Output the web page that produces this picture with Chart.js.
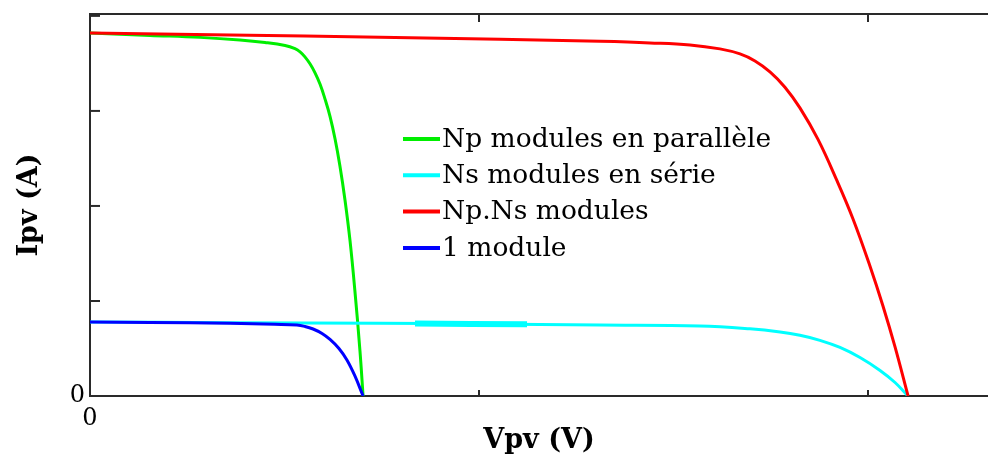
<!DOCTYPE html>
<html><head><meta charset="utf-8">
<script src="https://cdn.jsdelivr.net/npm/chart.js@4.4.1/dist/chart.umd.min.js"></script>
<style>html,body{margin:0;padding:0;background:#fff;overflow:hidden}canvas{display:block}</style>
</head><body>
<canvas id="c" width="988" height="457"></canvas>
<script>
// ---- data ----
const seriesLabels = ['Np modules en parallèle', 'Ns modules en série', 'Np.Ns modules', '1 module'];
const seriesColors = ['#00ee00', '#00ffff', '#ff0000', '#0000ff'];
const xTickValues = [0, 20, 40];
const yTickValues = [0, 1, 2, 3, 4];
const xAxisTitle = 'Vpv (V)';
const yAxisTitle = 'Ipv (A)';

const vParallel = [0, 3.08, 5.66, 7.71, 9.00, 10.03, 10.54, 10.80, 11.05, 11.31, 11.57, 11.83, 12.08, 12.34, 12.60, 12.85, 13.11, 13.37, 13.62, 13.88, 14.04];
const iParallel = [3.821, 3.795, 3.774, 3.747, 3.721, 3.689, 3.655, 3.622, 3.569, 3.496, 3.401, 3.280, 3.127, 2.943, 2.705, 2.421, 2.063, 1.632, 1.105, 0.474, 0];

const vSeries = [0, 7.20, 14.91, 20.05, 26.22, 31.36, 33.93, 35.48, 36.50, 37.53, 38.56, 39.59, 40.62, 41.39, 42.06];
const iSeries = [0.779, 0.771, 0.765, 0.758, 0.747, 0.737, 0.707, 0.674, 0.639, 0.586, 0.511, 0.405, 0.269, 0.142, 0];

const vBoth = [0, 7.20, 14.91, 21.08, 26.22, 28.79, 30.85, 32.39, 33.42, 34.19, 34.96, 35.73, 36.50, 37.43, 38.41, 39.23, 40.10, 40.77, 41.39, 42.06];
const iBoth = [3.821, 3.800, 3.776, 3.755, 3.732, 3.716, 3.695, 3.653, 3.600, 3.526, 3.411, 3.250, 3.032, 2.700, 2.263, 1.863, 1.368, 0.947, 0.516, 0];

const vSingle = [0, 3.08, 7.20, 9.50, 10.64, 11.05, 11.47, 11.93, 12.34, 12.80, 13.21, 13.62, 14.04];
const iSingle = [0.779, 0.774, 0.765, 0.755, 0.747, 0.732, 0.705, 0.658, 0.595, 0.500, 0.379, 0.211, 0];

// thicker stretch visible on the série curve
const vSeriesThick = [16.71, 22.47];
const iSeriesThick = [0.762, 0.755];

const pts = (vs, is) => vs.map((v, k) => ({x: v, y: is[k]}));

const framePlugin = {
  id: 'frame',
  afterDraw(chart) {
    const {ctx, chartArea: a, scales: {x, y}} = chart;
    ctx.save();
    ctx.strokeStyle = '#2a2a2a';
    ctx.lineWidth = 2;
    const seg = (x1, y1, x2, y2) => { ctx.beginPath(); ctx.moveTo(x1, y1); ctx.lineTo(x2, y2); ctx.stroke(); };
    seg(a.left, a.top, a.right, a.top);
    x.ticks.forEach(t => {
      if (t.value === 0) return;
      const px = x.getPixelForValue(t.value);
      seg(px, a.bottom, px, a.bottom - 6);
      seg(px, a.top, px, a.top + 8);
    });
    y.ticks.forEach(t => {
      if (t.value === 0) return;
      const py = y.getPixelForValue(t.value);
      seg(a.left, py, a.left + 10, py);
    });
    // legend
    ctx.font = '26.5px "DejaVu Serif"';
    ctx.textBaseline = 'middle';
    ctx.textAlign = 'left';
    ctx.fillStyle = '#000';
    ctx.lineWidth = 4;
    seriesLabels.forEach((lab, k) => {
      const ly = a.top + 125 + k * 36.3;
      ctx.strokeStyle = seriesColors[k];
      seg(a.left + 313, ly, a.left + 350, ly);
      ctx.fillText(lab, a.left + 352, ly + 1);
    });
    ctx.restore();
  }
};

new Chart(document.getElementById('c'), {
  type: 'line',
  data: {
    datasets: [
      {label: seriesLabels[0], data: pts(vParallel, iParallel), borderColor: seriesColors[0], order: 5},
      {label: seriesLabels[1], data: pts(vSeries, iSeries), borderColor: seriesColors[1], order: 4},
      {label: 'thick', data: pts(vSeriesThick, iSeriesThick), borderColor: seriesColors[1], borderWidth: 6, order: 3},
      {label: seriesLabels[2], data: pts(vBoth, iBoth), borderColor: seriesColors[2], order: 2},
      {label: seriesLabels[3], data: pts(vSingle, iSingle), borderColor: seriesColors[3], order: 1}
    ]
  },
  options: {
    responsive: false,
    animation: false,
    devicePixelRatio: 1,
    layout: {padding: {top: 14, right: 0, left: 0, bottom: 0}},
    elements: {
      point: {radius: 0},
      line: {borderWidth: 3, tension: 0.4, fill: false}
    },
    plugins: {legend: {display: false}, tooltip: {enabled: false}},
    scales: {
      x: {
        type: 'linear', min: 0, max: 46.17,
        afterBuildTicks: s => { s.ticks = xTickValues.map(v => ({value: v})); },
        afterFit: s => { s.height = 61; },
        grid: {display: false},
        border: {display: true, color: '#2a2a2a', width: 2},
        ticks: {
          callback: v => (v === 0 ? '0' : ''),
          font: {family: 'DejaVu Serif', size: 24}, color: '#000', padding: 0, maxRotation: 0
        },
        title: {display: true, text: xAxisTitle, font: {family: 'DejaVu Serif', size: 27, weight: 'bold'}, color: '#000', padding: {top: 0, bottom: 0}}
      },
      y: {
        type: 'linear', min: 0, max: 4.02,
        afterBuildTicks: s => { s.ticks = yTickValues.map(v => ({value: v})); },
        afterFit: s => { s.width = 90; },
        grid: {display: false},
        border: {display: true, color: '#2a2a2a', width: 2},
        ticks: {
          callback: v => (v === 0 ? '0' : ''),
          font: {family: 'DejaVu Serif', size: 24}, color: '#000', padding: -3
        },
        title: {display: true, text: yAxisTitle, font: {family: 'DejaVu Serif', size: 27, weight: 'bold'}, color: '#000', padding: {top: 14, bottom: 0}}
      }
    }
  },
  plugins: [framePlugin]
});
</script>
</body></html>
